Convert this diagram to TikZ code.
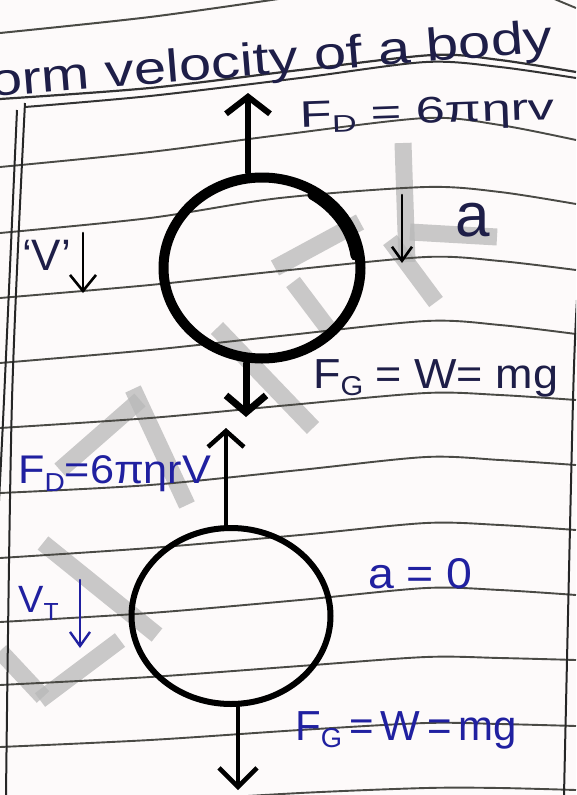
\documentclass[tikz,border=0pt]{standalone}
\usepackage{graphicx}
\usepackage{fontspec}
\setmainfont{Liberation Sans}
\usetikzlibrary{arrows.meta,shapes.geometric}
\definecolor{ink}{HTML}{1E1E48}
\definecolor{blueink}{HTML}{2020A0}
\definecolor{rulecol}{HTML}{4A4A45}
\definecolor{wm}{HTML}{B8B8B8}
\definecolor{paper}{HTML}{FDFAFA}
\newcommand\hsub[2][7pt]{\raisebox{-#1}{\scalebox{0.65}{#2}}}
\begin{document}
\begin{tikzpicture}[x=1pt,y=-1pt,
  ruled/.style={draw=rulecol, line width=1.9pt},
  margin/.style={draw=black!85, line width=2pt},
  ball/.style={ellipse, draw=black, inner sep=0pt, fill=none},
  force/.style={draw=black, line cap=round},
  wmark/.style={draw=wm, line width=17pt, opacity=0.75},
  lbl/.style={inner sep=0pt, anchor=base west},
]
\useasboundingbox (0,0) rectangle (576,795);
\clip (0,0) rectangle (576,795);
\fill[paper] (0,0) rectangle (576,795);

% watermark strokes
\draw[wmark] (403,143) -- (407,262);
\draw[wmark] (410,232) -- (497,237);
\draw[wmark] (390,240) -- (436,302);
\draw[wmark] (275,268) -- (360,222);
\draw[wmark] (293,282) -- (333,335);
\draw[wmark] (217,328) -- (313,428);
\draw[wmark] (133,389) -- (187,505);
\draw[wmark] (60,470) -- (140,400);
\draw[wmark] (43,543) -- (157,635);
\draw[wmark] (0,651) -- (43,697);
\draw[wmark] (40,700) -- (120,640);

% ruled lines
\draw[ruled, line width=2pt] plot[smooth] coordinates {(0,33) (150,17) (285,-2)};
\draw[ruled] plot[smooth] coordinates {(552,-2) (576,8)};
\draw[ruled, line width=2.2pt, draw=black!80] plot[smooth] coordinates {(0,99) (150,88) (300,70) (433,55) (500,60) (576,72)};
\draw[ruled, line width=2pt, draw=black!80] plot[smooth] coordinates {(25,107) (150,96) (300,78) (426,62) (500,67) (576,78)};
\draw[ruled] plot[smooth] coordinates {(0,167) (150,152) (280,135) (426,118) (500,125) (576,140)};
\draw[ruled] plot[smooth] coordinates {(0,233) (150,218) (280,198) (426,187) (500,192) (576,204)};
\draw[ruled] plot[smooth] coordinates {(0,298) (150,285) (280,271) (426,257) (500,261) (576,270)};
\draw[ruled] plot[smooth] coordinates {(0,363) (150,350) (280,336) (426,321) (500,325) (576,334)};
\draw[ruled] plot[smooth] coordinates {(0,428) (150,418) (290,405) (426,393) (500,395) (576,400)};
\draw[ruled] plot[smooth] coordinates {(0,493) (150,485) (300,470) (426,457) (500,460) (576,465)};
\draw[ruled] plot[smooth] coordinates {(0,558) (150,548) (300,535) (426,523) (500,525) (576,530)};
\draw[ruled] plot[smooth] coordinates {(0,622) (150,613) (300,600) (426,588) (500,590) (576,595)};
\draw[ruled] plot[smooth] coordinates {(0,685) (150,677) (300,666) (426,657) (500,658) (576,660)};
\draw[ruled] plot[smooth] coordinates {(0,747) (150,740) (300,730) (426,723) (500,724) (576,726)};
\draw[ruled] plot[smooth] coordinates {(150,802) (300,793) (426,788) (500,788) (576,790)};

% margins
\draw[margin] plot[smooth] coordinates {(25,103) (12,400) (6,795)};
\draw[margin] plot[smooth] coordinates {(17,110) (4,400) (-2,520)};
\draw[margin] plot[smooth] coordinates {(577,300) (573,400) (564,795)};

% title
\node[lbl, text=ink, rotate=4.6, font=\fontsize{46}{46}\selectfont] (title) at (-9,97)
  {\scalebox{1.26}[1]{orm velocity of a body}};

% bodies
\node[ball, line width=10pt, minimum width=197pt, minimum height=181pt] (ball1) at (262,268) {};
\draw[line width=9pt, line cap=round] ([shift={(-58:94 and 86)}]ball1.center)
  arc[start angle=-58, end angle=-8, x radius=94, y radius=86];
\node[ball, line width=6pt, minimum width=199pt, minimum height=176pt] (ball2) at (231,616) {};

% named arrow ends
\coordinate (t1) at (248,93);
\coordinate (t2) at (246,417);
\coordinate (a1) at (402,195);
\coordinate (a2) at (402,263);
\coordinate (v1) at (83,233);
\coordinate (v2) at (83,293);
\coordinate (t3) at (226,428);
\coordinate (t4) at (238,790);
\coordinate (w1) at (80,580);
\coordinate (w2) at (80,648);

% arrows
\draw[force, line width=6pt, -{Straight Barb[length=17pt,width=44pt]}] (t1 |- ball1.north) -- (t1);
\draw[force, line width=7pt, -{Straight Barb[length=17pt,width=40pt]}] (t2 |- ball1.south) -- (t2);
\draw[force, line width=2.6pt, -{Straight Barb[length=14pt,width=20pt]}] (a1) -- (a2);
\draw[force, line width=2.6pt, -{Straight Barb[length=16pt,width=26pt]}] (v1) -- (v2);
\draw[force, line width=4.5pt, -{Straight Barb[length=16pt,width=36pt]}] (t3 |- ball2.north) -- (t3);
\draw[force, line width=4.5pt, -{Straight Barb[length=19pt,width=38pt]}] (t4 |- ball2.south) -- (t4);
\draw[force, draw=blueink, line width=2.4pt, -{Straight Barb[length=14pt,width=20pt]}] (w1) -- (w2);

% labels, first body
\node[lbl, text=ink, rotate=2, font=\fontsize{37}{37}\selectfont] (fd1) at (300,128)
  {\scalebox{1.42}[1]{F\hsub[6pt]{D} = 6πηrv}};
\node[inner sep=0pt, text=ink, font=\fontsize{62}{62}\selectfont] (acc1) at (473,220) {a};
\node[lbl, text=ink, font=\fontsize{42}{42}\selectfont] (fg1) at (313,388)
  {\scalebox{1.07}[1]{F\hsub[7pt]{G} = W= mg}};
\node[lbl, text=ink, font=\fontsize{44}{44}\selectfont] (vlab) at (22,270) {‘V’};

% labels, second body
\node[lbl, text=blueink, font=\fontsize{40}{40}\selectfont] (fd2) at (18,483)
  {\scalebox{1.08}[1]{F\hsub[8pt]{D}=6πηrV}};
\node[lbl, text=blueink, font=\fontsize{43}{43}\selectfont] (acc2) at (368,588)
  {\scalebox{1.08}[1]{a = 0}};
\node[lbl, text=blueink, font=\fontsize{38}{38}\selectfont] (vt) at (18,612) {V\hsub[8pt]{T}};
\node[lbl, text=blueink, font=\fontsize{42}{42}\selectfont] (fg2) at (295,740)
  {F\hsub[7pt]{G}\,=\,W\,=\,mg};
\end{tikzpicture}
\end{document}
